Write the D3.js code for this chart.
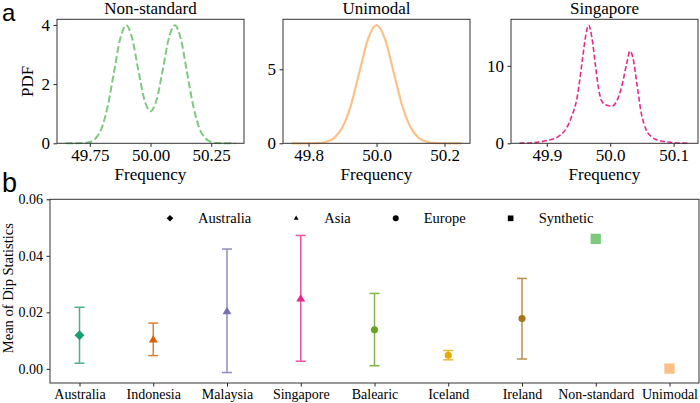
<!DOCTYPE html>
<html>
<head>
<meta charset="utf-8">
<script src="https://cdn.jsdelivr.net/npm/d3@7"></script>
<style>
  body { margin: 0; background: #fff; }
  text { font-family: "Liberation Serif", "Times New Roman", serif; fill: #000; }
</style>
</head>
<body>
<script>
'use strict';

// ---- panel a: frequency densities ----
const nonStdFreq = [49.65, 49.675, 49.70, 49.725, 49.75, 49.775, 49.80, 49.825, 49.85, 49.875, 49.90,
  49.925, 49.95, 49.975, 50.00, 50.025, 50.05, 50.075, 50.10, 50.125, 50.15, 50.175, 50.20,
  50.225, 50.25, 50.275, 50.30, 50.325, 50.35];
const nonStdPdf = [0.0, 0.0, 0.001, 0.009, 0.044, 0.175, 0.54, 1.30, 2.42, 3.52, 3.99,
  3.53, 2.46, 1.47, 1.08, 1.47, 2.46, 3.53, 3.99,
  3.52, 2.42, 1.30, 0.54, 0.175, 0.044, 0.009, 0.001, 0.0, 0.0];

const uniFreq = [49.75, 49.775, 49.80, 49.825, 49.85, 49.875, 49.90, 49.925, 49.95, 49.975, 50.00,
  50.025, 50.05, 50.075, 50.10, 50.125, 50.15, 50.175, 50.20, 50.225, 50.25];
const uniPdf = [0.0, 0.0003, 0.003, 0.017, 0.089, 0.35, 1.08, 2.59, 4.84, 7.04, 7.98,
  7.04, 4.84, 2.59, 1.08, 0.35, 0.089, 0.017, 0.003, 0.0003, 0.0];

const sgFreq = [49.857, 49.881, 49.900, 49.917, 49.938, 49.948, 49.956, 49.961, 49.966, 49.971,
  49.977, 49.982, 49.987, 49.995, 50.003, 50.010, 50.018, 50.026, 50.031, 50.036, 50.042,
  50.049, 50.057, 50.065, 50.078, 50.099, 50.125];
const sgPdf = [0.02, 0.1, 0.35, 0.8, 3.2, 6.0, 10.7, 13.7, 15.25, 13.7,
  9.9, 6.9, 5.4, 4.9, 4.8, 5.4, 7.3, 10.3, 11.9, 11.0, 7.7,
  3.9, 1.7, 0.85, 0.33, 0.1, 0.0];

// ---- panel b: mean dip statistic per site ----
const sites = ["Australia", "Indonesia", "Malaysia", "Singapore", "Balearic", "Iceland", "Ireland", "Non-standard", "Unimodal"];
const siteGroup = ["Australia", "Asia", "Asia", "Asia", "Europe", "Europe", "Europe", "Synthetic", "Synthetic"];
const dipMean = [0.0119, 0.0102, 0.0202, 0.0247, 0.0138, 0.0048, 0.0178, 0.0460, 0.0001];
const dipLow = [0.0020, 0.0047, -0.0013, 0.0027, 0.0011, 0.0032, 0.0035, null, null];
const dipHigh = [0.0218, 0.0162, 0.0424, 0.0472, 0.0267, 0.0065, 0.0320, null, null];
const dipTicks = [0.00, 0.02, 0.04, 0.06];
const groups = ["Australia", "Asia", "Europe", "Synthetic"];

const siteColors = ["#1b9e77", "#d95f02", "#7570b3", "#e7298a", "#66a61e", "#e6ab02", "#a6761d", "#7fc97f", "#fdc086"];

const svg = d3.select('body').append('svg')
  .attr('width', 700)
  .attr('height', 403);

// marker shape per group (matplotlib D, ^, o, s)
function groupSymbol(g, area) {
  if (g === "Australia") return { path: d3.symbol(d3.symbolSquare, area)(), rot: 45 };
  if (g === "Asia") return { path: d3.symbol(d3.symbolTriangle, area)(), rot: 0 };
  if (g === "Europe") return { path: d3.symbol(d3.symbolCircle, area)(), rot: 0 };
  return { path: d3.symbol(d3.symbolSquare, area)(), rot: 0 };
}

function styleAxis(g) {
  g.select('.domain').remove();
  g.selectAll('.tick line').attr('stroke', '#222');
  g.selectAll('.tick text').style('font-family', '"Liberation Serif", serif');
}

function densityPanel(cfg) {
  const top = 19.3, bottom = 143.3, width = 187;
  const ext = d3.extent(cfg.freq);
  const pad = (ext[1] - ext[0]) * 0.05;
  const x = d3.scaleLinear().domain([ext[0] - pad, ext[1] + pad]).range([cfg.left, cfg.left + width]);
  const y = d3.scaleLinear().domain([0, d3.max(cfg.pdf) * 1.05]).range([bottom, top]);

  const g = svg.append('g');

  let line = d3.line()
    .x((d, i) => x(cfg.freq[i]))
    .y(d => y(d))
    .curve(d3.curveMonotoneX);

  g.append('path')
    .attr('d', line(cfg.pdf))
    .attr('fill', 'none')
    .attr('stroke', cfg.color)
    .attr('stroke-width', cfg.lw)
    .attr('stroke-dasharray', cfg.dash);

  let xAxis = d3.axisBottom(x).tickValues(cfg.xTicks).tickFormat(d3.format(cfg.xFmt))
    .tickSize(3.5).tickPadding(2.5);
  g.append('g').attr('transform', `translate(0, ${bottom})`).call(xAxis)
    .call(styleAxis).style('font-size', '17px');

  let yAxis = d3.axisLeft(y).tickValues(cfg.yTicks).tickFormat(d3.format('d'))
    .tickSize(3.5).tickPadding(3.5);
  g.append('g').attr('transform', `translate(${cfg.left}, 0)`).call(yAxis)
    .call(styleAxis).style('font-size', '17px');

  g.append('rect')
    .attr('x', cfg.left).attr('y', top)
    .attr('width', width).attr('height', bottom - top)
    .attr('fill', 'none').attr('stroke', '#333').attr('stroke-width', 1);

  g.append('text')
    .attr('x', cfg.left + width / 2).attr('y', 13.5)
    .attr('text-anchor', 'middle')
    .style('font-size', '17px')
    .text(cfg.title);

  g.append('text')
    .attr('x', cfg.left + width / 2).attr('y', 180)
    .attr('text-anchor', 'middle')
    .style('font-size', '17px')
    .text('Frequency');

  if (cfg.ylabel) {
    g.append('text')
      .attr('transform', `translate(33, ${(top + bottom) / 2}) rotate(-90)`)
      .attr('text-anchor', 'middle')
      .style('font-size', '17px')
      .text(cfg.ylabel);
  }
}

densityPanel({ left: 57, freq: nonStdFreq, pdf: nonStdPdf, color: '#7fc97f', lw: 2, dash: '7,3',
  title: 'Non-standard', xTicks: [49.75, 50.00, 50.25], xFmt: '.2f', yTicks: [0, 2, 4], ylabel: 'PDF' });
densityPanel({ left: 283, freq: uniFreq, pdf: uniPdf, color: '#fdc086', lw: 2.2, dash: null,
  title: 'Unimodal', xTicks: [49.8, 50.0, 50.2], xFmt: '.1f', yTicks: [0, 5] });
densityPanel({ left: 511, freq: sgFreq, pdf: sgPdf, color: '#e7298a', lw: 1.6, dash: '5,2.5',
  title: 'Singapore', xTicks: [49.9, 50.0, 50.1], xFmt: '.1f', yTicks: [0, 10] });

// panel letters
svg.append('text').attr('x', 2).attr('y', 21)
  .style('font-family', '"Liberation Sans", Arial, sans-serif').style('font-size', '24px').text('a');
svg.append('text').attr('x', 2).attr('y', 192)
  .style('font-family', '"Liberation Sans", Arial, sans-serif').style('font-size', '27px').text('b');

// ---- panel b ----
function dipPanel() {
  const left = 50, right = 699, top = 199.3, bottom = 383;
  const x = d3.scalePoint().domain(sites).range([left, right]).padding(0.4);
  const y = d3.scaleLinear().domain([-0.005, 0.06]).range([bottom, top]);
  const g = svg.append('g');

  let xAxis = d3.axisBottom(x).tickSize(3.5).tickPadding(3);
  g.append('g').attr('transform', `translate(0, ${bottom})`).call(xAxis)
    .call(styleAxis).style('font-size', '14px');
  let yAxis = d3.axisLeft(y).tickValues(dipTicks).tickFormat(d3.format('.2f'))
    .tickSize(3.5).tickPadding(3.5);
  g.append('g').attr('transform', `translate(${left}, 0)`).call(yAxis)
    .call(styleAxis).style('font-size', '14px');

  g.append('rect')
    .attr('x', left).attr('y', top)
    .attr('width', right - left).attr('height', bottom - top)
    .attr('fill', 'none').attr('stroke', '#333').attr('stroke-width', 1);

  g.append('text')
    .attr('transform', `translate(13, ${(top + bottom) / 2 - 3}) rotate(-90)`)
    .attr('text-anchor', 'middle')
    .style('font-size', '14.5px')
    .text('Mean of Dip Statistics');

  // error bars
  sites.forEach((s, i) => {
    if (dipLow[i] === null) return;
    const cx = x(s);
    const eb = g.append('g').attr('stroke', siteColors[i]).attr('stroke-width', 1.5).attr('opacity', 0.8);
    eb.append('line').attr('x1', cx).attr('x2', cx).attr('y1', y(dipLow[i])).attr('y2', y(dipHigh[i]));
    [dipLow[i], dipHigh[i]].forEach(v => {
      eb.append('line').attr('x1', cx - 5).attr('x2', cx + 5).attr('y1', y(v)).attr('y2', y(v));
    });
  });

  // markers
  const markerArea = { Australia: 50, Asia: 34, Europe: 40, Synthetic: 106 };
  sites.forEach((s, i) => {
    const sym = groupSymbol(siteGroup[i], markerArea[siteGroup[i]]);
    g.append('path')
      .attr('d', sym.path)
      .attr('transform', `translate(${x(s)}, ${y(dipMean[i])}) rotate(${sym.rot})`)
      .attr('fill', siteColors[i]);
  });

  // legend
  const legendArea = { Australia: 22, Asia: 10, Europe: 28, Synthetic: 32 };
  let lx = 170;
  const ly = 218.3;
  groups.forEach(gr => {
    const sym = groupSymbol(gr, legendArea[gr]);
    g.append('path')
      .attr('d', sym.path)
      .attr('transform', `translate(${lx}, ${ly}) rotate(${sym.rot})`)
      .attr('fill', '#000');
    const t = g.append('text')
      .attr('x', lx + 28).attr('y', ly).attr('dy', '0.35em')
      .style('font-size', '14.5px')
      .text(gr);
    lx = lx + 28 + t.node().getComputedTextLength() + 45;
  });
}

dipPanel();
</script>
</body>
</html>
